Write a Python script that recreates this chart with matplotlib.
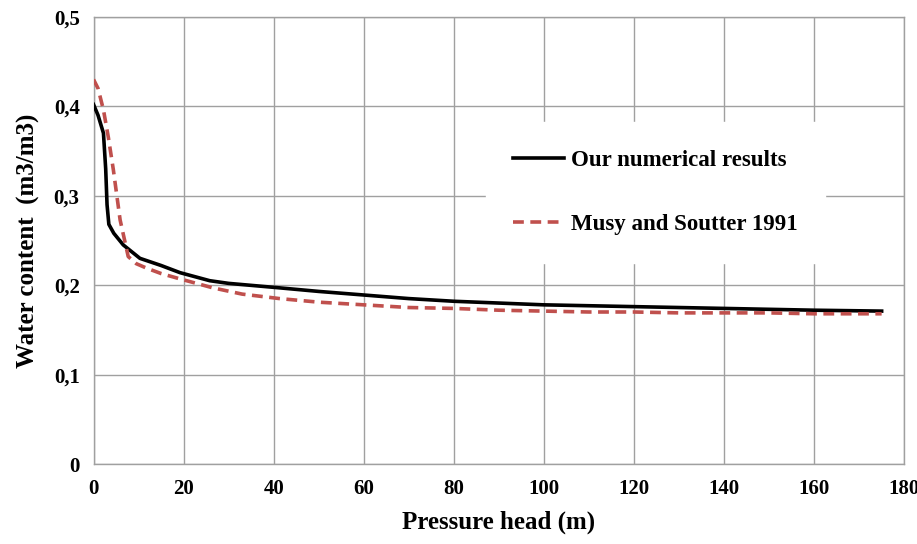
import numpy as np
import matplotlib.pyplot as plt

# pressure head (m) and water content (m3/m3)
head_num = [0, 1, 2.2, 2.7, 3.0, 3.4, 4.5, 6.6, 10.3, 15, 19.2, 25.8, 30, 41.3, 50, 60, 70,
            80, 90, 100, 110, 120, 130, 140, 150, 160, 175]
wc_num = [0.402, 0.39, 0.37, 0.33, 0.29, 0.268, 0.258, 0.245, 0.230, 0.222, 0.214, 0.205,
          0.202, 0.197, 0.193, 0.189, 0.185, 0.182, 0.180, 0.178, 0.177, 0.176, 0.175,
          0.174, 0.173, 0.172, 0.171]

head_ref = [0, 1, 2.2, 3.3, 4.4, 5.9, 7.7, 9.5, 11.8, 15, 19.2, 26.5, 33, 41.3, 50, 60, 70,
            80, 90, 100, 110, 120, 130, 140, 150, 160, 175]
wc_ref = [0.43, 0.42, 0.396, 0.365, 0.329, 0.273, 0.232, 0.224, 0.219, 0.213, 0.207, 0.197,
          0.190, 0.185, 0.181, 0.178, 0.175, 0.174, 0.172, 0.171, 0.170, 0.170, 0.169,
          0.169, 0.169, 0.168, 0.168]

x_ticks = np.arange(0, 181, 20)
y_ticks = [0, 0.1, 0.2, 0.3, 0.4, 0.5]
y_labels = ["0", "0,1", "0,2", "0,3", "0,4", "0,5"]

plt.rcParams["font.family"] = ["Liberation Serif", "DejaVu Serif"]
plt.rcParams["font.weight"] = "bold"

fig = plt.figure(figsize=(9.17, 5.44), dpi=100)
ax = fig.add_axes([0.102, 0.147, 0.884, 0.822])

ax.plot(head_num, wc_num, color="black", linewidth=2.6, label="Our numerical results", zorder=3)
ax.plot(head_ref, wc_ref, color="#C0504D", linewidth=2.6, linestyle=(0, (3, 1.8)),
        label="Musy and Soutter 1991", zorder=3)

ax.set_xlim(0, 180)
ax.set_ylim(0, 0.5)
ax.set_xticks(x_ticks)
ax.set_yticks(y_ticks)
ax.set_yticklabels(y_labels)
ax.tick_params(length=0, labelsize=15, pad=11)
ax.tick_params(axis="y", pad=10)
for lbl in ax.get_xticklabels() + ax.get_yticklabels():
    lbl.set_fontweight("bold")

ax.grid(True, color="#A0A0A0", linewidth=1)
ax.set_axisbelow(True)
for s in ax.spines.values():
    s.set_color("#A0A0A0")
    s.set_linewidth(1)

ax.set_xlabel("Pressure head (m)", fontsize=18, fontweight="bold", labelpad=8)
ax.set_ylabel("Water content  (m3/m3)", fontsize=18, fontweight="bold", labelpad=10)

leg = ax.legend(loc="upper left", bbox_to_anchor=(0.47, 0.79), frameon=True,
                fontsize=16.5, handlelength=2.2, handletextpad=0.3, labelspacing=1.9,
                borderpad=1.2, fancybox=False)
leg.get_frame().set_edgecolor("white")
leg.get_frame().set_facecolor("white")
leg.get_frame().set_alpha(1)
for t in leg.get_texts():
    t.set_fontweight("bold")

fig.savefig("out.png", dpi=100)
